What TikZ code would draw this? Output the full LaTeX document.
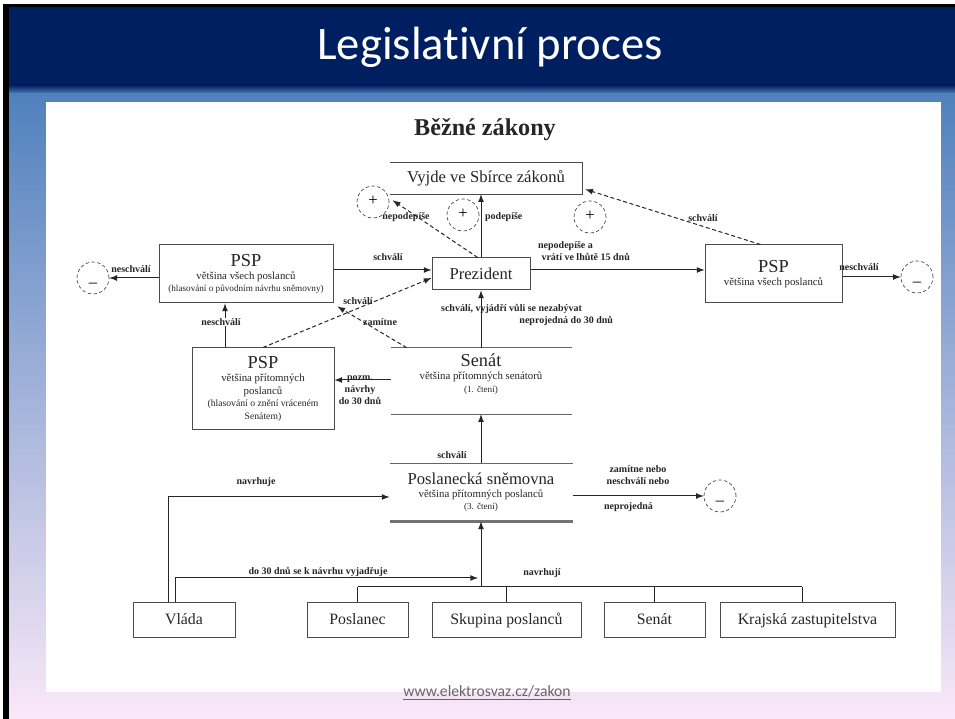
\documentclass[tikz,border=0pt]{standalone}
\usepackage{fontspec}
\setmainfont{Liberation Serif}
\newfontfamily\slidefont[Ligatures=NoCommon]{Carlito}
\usepackage{tikz}
\usetikzlibrary{calc}
\definecolor{slidenavy}{RGB}{0,31,96}
\definecolor{slideblue}{RGB}{80,129,190}
\definecolor{slidelilac}{RGB}{192,192,234}
\definecolor{slidepink}{RGB}{250,232,248}

\begin{document}
\begin{tikzpicture}[x=0.6pt,y=-0.6pt]
  \tikzstyle{arr}=[-latex, line width=0.6pt, color=black!85]
  \tikzstyle{dasharr}=[arr, dash pattern=on 2.4pt off 1.6pt]
  \tikzstyle{box}=[draw=black!70, line width=0.6pt, inner sep=1pt, align=center, text=black!85, font=\fontsize{6.5}{7.6}\selectfont]
  \tikzstyle{srcbox}=[draw=black!70, line width=0.6pt, minimum height=21pt, text height=7pt, text depth=2pt, text=black!85, font=\fontsize{9.5}{11}\selectfont]
  \tikzstyle{sign}=[circle, draw=black!75, dash pattern=on 2pt off 1.5pt, minimum size=19.2pt, inner sep=0pt, text height=3pt, text depth=0pt, font=\fontsize{10}{10}\selectfont]
  \tikzstyle{lbl}=[inner sep=0.5pt, align=center, text=black!85, font=\bfseries\fontsize{6}{7.2}\selectfont]
  \useasboundingbox (0,0) rectangle (955,719);
  % slide
  \fill[white] (0,0) rectangle (955,719);
  \fill[black] (3,4) rectangle (955,719);
  \fill[slidenavy] (9,7) rectangle (955,86);
  \shade[top color=slidenavy, bottom color=slideblue] (9,85) rectangle (955,94);
  \shade[top color=slideblue, middle color=slidelilac, bottom color=slidepink] (9,93.5) rectangle (955,719);
  \fill[white] (46,102) rectangle (941,692);
  \node[text=white, font=\slidefont\fontsize{28}{30}\selectfont] (title) at (490,47) {Legislativní proces};
  \node[text=black!60, font=\slidefont\fontsize{9.4}{10}\selectfont] (footer) at (487,693) {\underline{www.elektrosvaz.cz/zakon}};
  \node[text=black!85, font=\bfseries\fontsize{14.5}{16}\selectfont] (heading) at (485,130) {Běžné zákony};

  \node[minimum width=115.2pt, minimum height=18.6pt, inner sep=0pt, text=black!85, font=\fontsize{10}{11}\selectfont] (vyjde) at (486,178.5) {Vyjde ve Sbírce zákonů};
  \draw[draw=black!70, line width=0.6pt] (vyjde.north west) -- (vyjde.north east) -- (vyjde.south east) -- (vyjde.south west);
  \node[box, minimum width=58.8pt, minimum height=19.2pt, font=\fontsize{10}{11}\selectfont] (prez) at (481,274) {Prezident};
  \node[box, minimum width=104.4pt, minimum height=34.8pt] (pspA) at (246,274) {{\fontsize{11}{12}\selectfont PSP}\\ většina všech poslanců\\ {\fontsize{5.5}{6}\selectfont (hlasování o původním návrhu sněmovny)}};
  \node[box, minimum width=82.2pt, minimum height=34.8pt] (pspB) at (773.5,274) {{\fontsize{11}{12}\selectfont PSP}\\ většina všech poslanců};
  \node[box, minimum width=85.2pt, minimum height=49.2pt] (pspC) at (263,389) {{\fontsize{11}{12}\selectfont PSP}\\ většina přítomných\\ poslanců\\ {\fontsize{5.8}{6}\selectfont (hlasování o znění vráceném}\\ {\fontsize{5.8}{6}\selectfont Senátem)}};
  \node[minimum width=108.6pt, minimum height=39.6pt, inner sep=0pt] (senat) at (481.5,381) {};
  \node[box, draw=none] (senatText) at (481,374) {{\fontsize{11}{12}\selectfont Senát}\\ většina přítomných senátorů\\ {\fontsize{5.5}{6}\selectfont (1. čtení)}};
  \node[box, draw=none, minimum width=109.2pt, minimum height=34.2pt, inner sep=0pt] (ps) at (481,492.5) {{\fontsize{10}{11}\selectfont Poslanecká sněmovna}\\ většina přítomných poslanců\\ {\fontsize{5.5}{6}\selectfont (3. čtení)}};
  \draw[black!60, line width=0.6pt] (senat.north west) -- (senat.north east);
  \draw[black!60, line width=0.6pt] (senat.south west) -- (senat.south east);
  \draw[black!60, line width=0.6pt] (ps.north west) -- (ps.north east);
  \draw[black!55, line width=1.3pt] (ps.south west) -- (ps.south east);

  \foreach \n/\x/\w/\t in {vlada/184/61.2/Vláda, poslanec/357.5/60.6/Poslanec, skupina/506.5/89.4/Skupina poslanců, senatB/654.5/60.6/Senát, kraje/807.5/105/Krajská zastupitelstva} {
    \node[srcbox, minimum width=\w pt] (\n) at (\x,620.5) {\t};
  }
  \foreach \n/\x/\y in {plusA/373/202, plusB/463/215, plusC/590/217} {
    \node[sign] (\n) at (\x,\y) {\raisebox{-0.5pt}[0pt][0pt]{+}};
  }
  \foreach \n/\x/\y in {minusA/93/278, minusB/917/277, minusC/720/496} {
    \node[sign] (\n) at (\x,\y) {\raisebox{-4.5pt}[0pt][0pt]{--}};
  }

  % prezident
  \draw[arr] (prez.north) -- (prez.north |- vyjde.south);
  \draw[dasharr] ([xshift=-2pt]prez.north) -- ($(vyjde.south west)+(3,6)$);
  \draw[dasharr] ($(pspB.north)+(-13,0)$) -- ($(vyjde.south east)+(3,-5)$);
  \draw[arr] (pspA.east |- 0,270) -- (prez.west |- 0,270);
  \draw[arr] (prez.east |- 0,270) -- (pspB.west |- 0,270);
  \draw[arr] (pspA.west |- 0,278) -- (minusA);
  \draw[arr] (pspB.east |- 0,277) -- (minusB);
  \node[lbl] (lNep) at (406,217) {nepodepíše};
  \node[lbl, anchor=west] (lPod) at (484,217) {podepíše};
  \node[lbl] (lSchZ) at (703,218) {schválí};
  \node[lbl] (lSchA) at (388,257) {schválí};
  \node[lbl, anchor=west, align=left] (lVrati) at (537,251) {nepodepíše a\\ \hspace*{2pt}vrátí ve lhůtě 15 dnů};
  \node[lbl] (lNsA) at (131,269) {neschválí};
  \node[lbl] (lNsB) at (859,267) {neschválí};

  % senat a psp
  \draw[arr] (pspC.north -| 225,0) -- (pspA.south -| 225,0);
  \node[lbl, fill=white] (lNsC) at (221,322) {neschválí};
  \draw[dasharr] (pspC.north) -- (prez.west |- 0,278);
  \node[lbl] (lSchC) at (358,301) {schválí};
  \draw[dasharr] ($(senat.north west)+(16,0)$) -- ($(pspA.south east)+(4,3)$);
  \node[lbl] (lZam) at (380,322) {zamítne};
  \draw[arr] (senat.north -| prez.south) -- (prez.south);
  \node[lbl, anchor=west, align=left] (lSen) at (440,315) {schválí, vyjádří vůli se nezabývat\\ \hspace*{47pt}neprojedná do 30 dnů};
  \draw[arr] (senat.west |- 0,380) -- (pspC.east |- 0,380);
  \node[lbl] (lPozm) at (360,390) {pozm.\\ návrhy\\ do 30 dnů};

  % poslanecka snemovna
  \draw[arr] (ps.north -| prez.south) -- (senat.south -| prez.south);
  \node[lbl] (lSchP) at (452,455) {schválí};
  \draw[arr] (ps.east |- 0,496) -- (minusC);
  \node[lbl] (lZamN) at (638,475) {zamítne nebo\\ neschválí nebo};
  \node[lbl, anchor=west] (lNepr) at (603,507) {neprojedná};

  % navrhovatele
  \coordinate (bus) at (481,587);
  \draw[arr] (vlada.north -| 168,0) |- (ps.west |- 0,497);
  \node[lbl] (lNavrh) at (256,482) {navrhuje};
  \draw[arr] (vlada.north -| 175,0) |- (478,578);
  \node[lbl] (lDo30) at (318,572) {do 30 dnů se k návrhu vyjadřuje};
  \draw[line width=0.6pt, black!85] (poslanec.north |- bus) -- (802,587);
  \foreach \b in {poslanec,skupina,senatB} {
    \draw[line width=0.6pt, black!85] (\b.north) -- (\b.north |- bus);
  }
  \draw[line width=0.6pt, black!85] (kraje.north -| 802,0) -- (802,587);
  \draw[arr] (bus) -- (ps.south -| bus);
  \node[lbl] (lNavrhuji) at (542,573) {navrhují};
\end{tikzpicture}
\end{document}
